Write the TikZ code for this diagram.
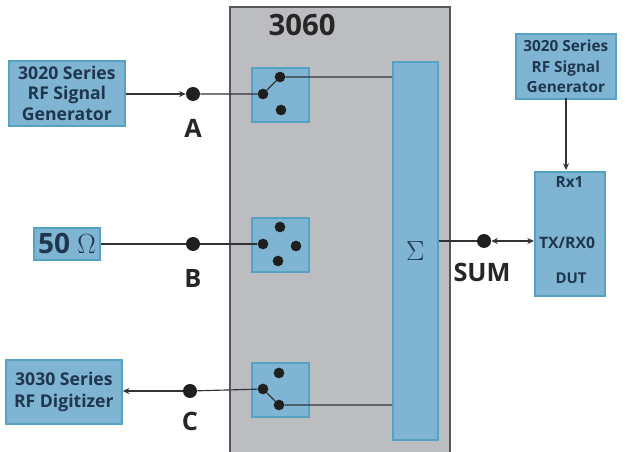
\documentclass[tikz,border=0pt]{standalone}
\usepackage{fontspec}
\setmainfont{Open Sans}
\usetikzlibrary{arrows.meta}
\definecolor{boxfill}{HTML}{7FB4D3}
\definecolor{boxedge}{HTML}{55A2C2}
\definecolor{panelfill}{HTML}{BCBDC1}
\definecolor{paneledge}{HTML}{55565A}
\definecolor{boxtext}{HTML}{20364F}
\definecolor{wire}{HTML}{303338}
\tikzset{
  x=0.75pt,y=-0.75pt,
  bluebox/.style={draw=boxedge,fill=boxfill,line width=1.3pt,inner sep=0pt,anchor=north west,align=center,text=boxtext,font=\fontsize{13.2}{15.6}\selectfont\bfseries},
  panel/.style={draw=paneledge,fill=panelfill,line width=1.2pt,inner sep=0pt,anchor=north west},
  dotmark/.style={circle,fill=black!88,inner sep=0pt,minimum size=10.5pt},
  smalldot/.style={circle,fill=black!88,inner sep=0pt,minimum size=8pt},
  wireline/.style={draw=wire,line width=0.85pt},
  tipped/.style={wireline,-{Stealth[length=5pt,width=4.5pt]}},
  bothtipped/.style={wireline,{Stealth[length=5pt,width=4.5pt]}-{Stealth[length=5pt,width=4.5pt]}},
  biglabel/.style={font=\fontsize{19}{19}\selectfont\bfseries,text=black!85},
}
\begin{document}
\begin{tikzpicture}
\useasboundingbox (0,0) rectangle (628,452);
% main panel and inner blocks
\node[panel,minimum width=220*0.75pt,minimum height=446*0.75pt] (panel) at (229,6) {};
\node[font=\fontsize{22}{22}\selectfont\bfseries,text=black!85] (title) at (302,25) {3060};
\node[bluebox,minimum width=57*0.75pt,minimum height=54*0.75pt] (swa) at (251,67) {};
\node[bluebox,minimum width=57*0.75pt,minimum height=54*0.75pt] (swb) at (251,217) {};
\node[bluebox,minimum width=57*0.75pt,minimum height=54*0.75pt] (swc) at (251,362) {};
\node[bluebox,minimum width=45*0.75pt,minimum height=378*0.75pt,font=\fontsize{22}{22}\selectfont] (sum) at (392,61) {$\Sigma$};
% outer blocks
\node[bluebox,minimum width=116*0.75pt,minimum height=65*0.75pt] (gena) at (8,60) {3020 Series\\RF Signal\\Generator};
\node[bluebox,minimum width=66*0.75pt,minimum height=32*0.75pt,font=\fontsize{21}{21}\selectfont\bfseries] (term) at (33,227) {50 $\Omega$};
\node[bluebox,minimum width=116*0.75pt,minimum height=64*0.75pt,font=\fontsize{13.2}{16.5}\selectfont\bfseries] (dig) at (5,359) {3030 Series\\RF Digitizer};
\node[bluebox,minimum width=100*0.75pt,minimum height=65*0.75pt,font=\fontsize{11.5}{15.6}\selectfont\bfseries] (genb) at (515,33) {3020 Series\\RF Signal\\Generator};
\node[bluebox,minimum width=70*0.75pt,minimum height=124*0.75pt] (dut) at (534,171) {};
\node[text=boxtext,font=\fontsize{11.5}{11.5}\selectfont\bfseries] (rx) at (569.5,182) {Rx1};
\node[text=boxtext,font=\fontsize{11.8}{11.8}\selectfont\bfseries] (tx) at (567,243) {TX/RX0};
\node[text=boxtext,font=\fontsize{11.2}{11.2}\selectfont\bfseries] (dutl) at (571,278) {DUT};
% external dots
\node[dotmark] (pa) at (193,94) {};
\node[dotmark] (pb) at (193,244) {};
\node[dotmark] (pc) at (190,391) {};
\node[dotmark] (ps) at (484,241) {};
\node[biglabel] (la) at (193,128) {A};
\node[biglabel] (lb) at (193,278) {B};
\node[biglabel] (lc) at (190,421) {C};
\node[biglabel] (ls) at (482,272) {SUM};
% switch contacts
\node[smalldot] (a1) at (263,94) {};
\node[smalldot] (a2) at (280,77) {};
\node[smalldot] (a3) at (281,110) {};
\node[smalldot] (b1) at (263,244) {};
\node[smalldot] (b2) at (280,227) {};
\node[smalldot] (b3) at (296,246) {};
\node[smalldot] (b4) at (278,261) {};
\node[smalldot] (c1) at (263,389) {};
\node[smalldot] (c2) at (279,373) {};
\node[smalldot] (c3) at (279,405) {};
\coordinate (suma) at (sum.west |- a2);
\coordinate (sumc) at (sum.west |- c3);
\coordinate (sums) at (sum.east |- ps);
\coordinate (genat) at (gena.east |- pa);
\coordinate (termt) at (term.east |- pb);
\coordinate (digt) at (dig.east |- pc);
\coordinate (dutt) at (dut.west |- ps);
\coordinate (genbb) at (566,98);
\coordinate (dutb) at (566,170);
% connectors
\draw[tipped] (genat) -- (pa);
\draw[wireline] (pa) -- (a1) -- (a2) -- (suma);
\draw[wireline] (termt) -- (pb) -- (b1);
\draw[tipped] (pc) -- (digt);
\draw[wireline] (pc) -- (c1) -- (c3) -- (sumc);
\draw[wireline] (sums) -- (ps);
\draw[bothtipped] (ps) -- (dutt);
\draw[tipped] (genbb) -- (dutb);
\end{tikzpicture}
\end{document}
